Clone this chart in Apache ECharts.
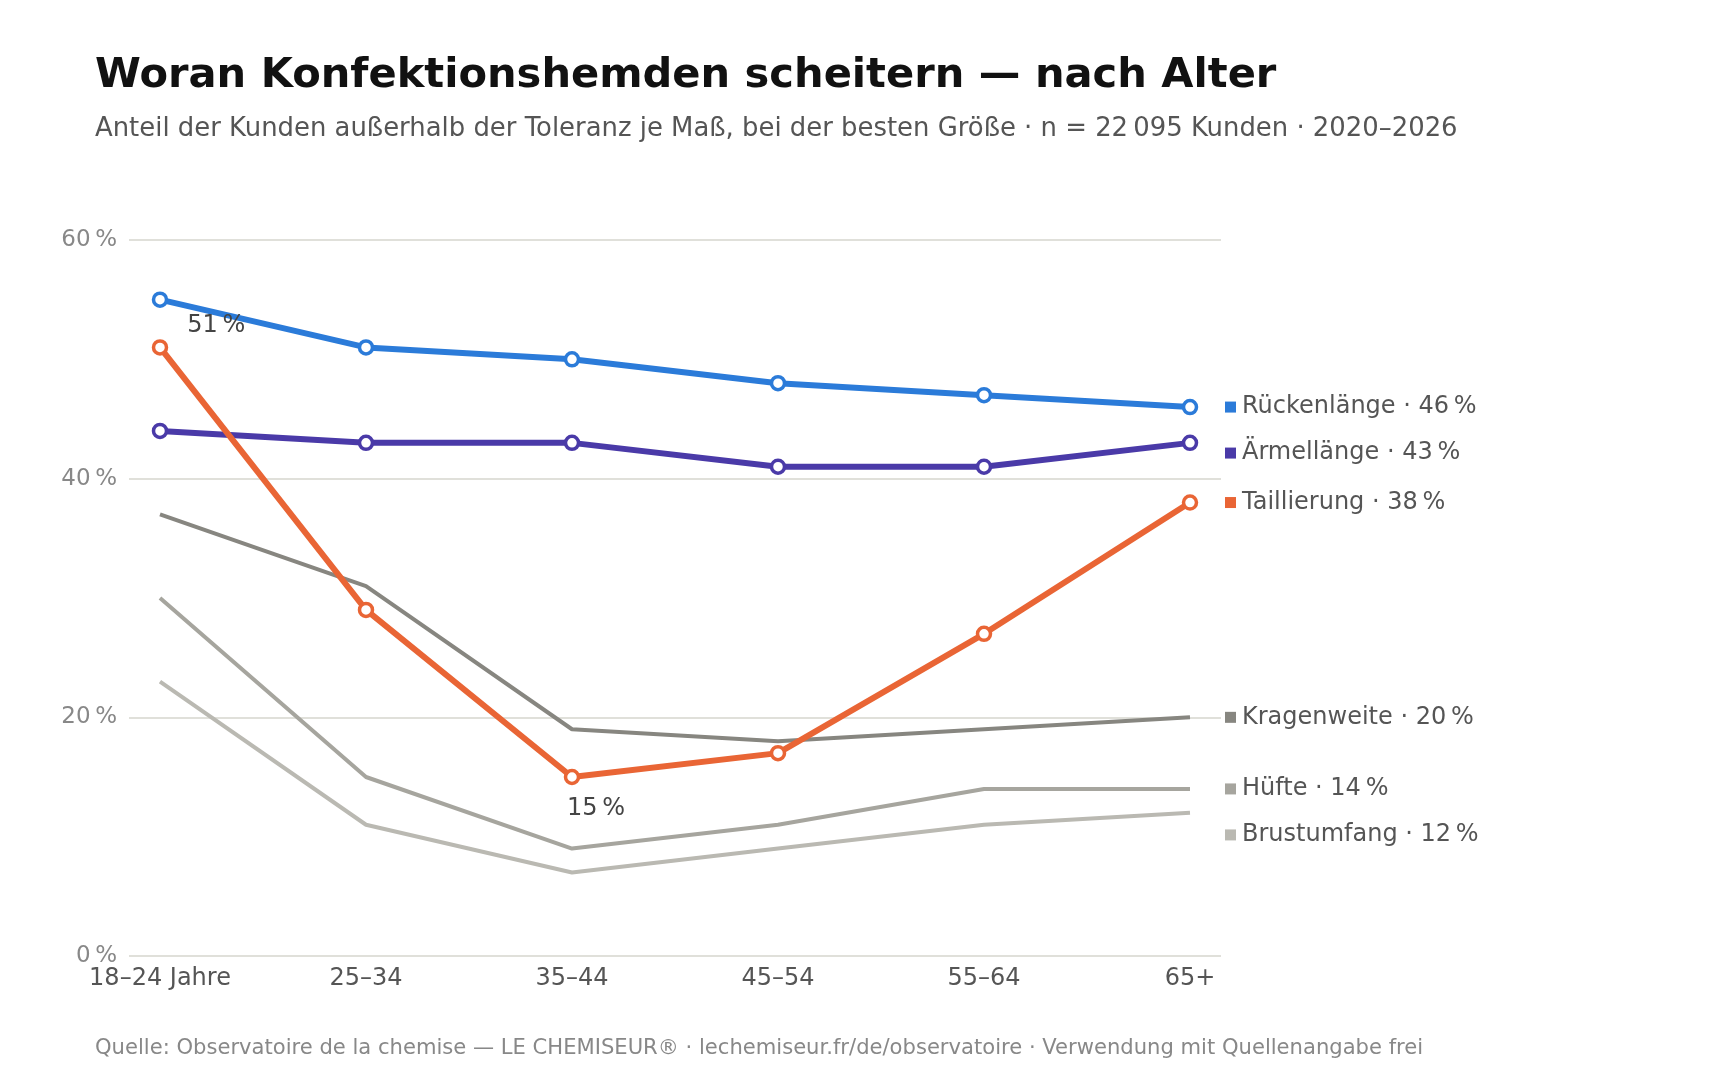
<!DOCTYPE html>
<html>
<head>
<meta charset="utf-8">
<script src="https://cdn.jsdelivr.net/npm/echarts@6/dist/echarts.min.js"></script>
<style>
  html, body { margin: 0; padding: 0; background: #fff; }
  #chart { width: 1720px; height: 1080px; }
</style>
</head>
<body>
<div id="chart"></div>
<script>
// Altersgruppen (x-Achse)
const ageGroups = ['18–24 Jahre', '25–34', '35–44', '45–54', '55–64', '65+']

// Anteil außerhalb der Toleranz, in %
const rueckenlaenge = [55, 51, 50, 48, 47, 46]
const aermellaenge = [44, 43, 43, 41, 41, 43]
const taillierung = [51, 29, 15, 17, 27, 38]
const kragenweite = [37, 31, 19, 18, 19, 20]
const huefte = [30, 15, 9, 11, 14, 14]
const brustumfang = [23, 11, 7, 9, 11, 12]

const yTicks = [0, 20, 40, 60]

const FONT = 'DejaVu Sans'
const NNBSP = '\u202f'

// hervorgehobene Maße mit Punkten, graue Maße ohne
const seriesDefs = [
  { name: 'Kragenweite', data: kragenweite, color: '#878680', strong: false },
  { name: 'Hüfte', data: huefte, color: '#a6a59e', strong: false },
  { name: 'Brustumfang', data: brustumfang, color: '#bab9b2', strong: false },
  { name: 'Rückenlänge', data: rueckenlaenge, color: '#2b7bd9', strong: true },
  { name: 'Ärmellänge', data: aermellaenge, color: '#4a3aa8', strong: true },
  { name: 'Taillierung', data: taillierung, color: '#e96535', strong: true, annotate: true }
]

function pct (v) {
  return v + NNBSP + '%'
}

// Verschiebung der Max/Min-Beschriftung (px)
const shiftMax = [14, -22]
const shiftMin = [24, 7]

function extremes (arr) {
  return {
    iMax: arr.indexOf(Math.max.apply(null, arr)),
    iMin: arr.indexOf(Math.min.apply(null, arr))
  }
}

function buildData (def) {
  if (!def.annotate) return def.data
  const ex = extremes(def.data)
  return def.data.map(function (v, i) {
    if (i === ex.iMax) {
      return { value: v, label: { show: true, position: 'right' } }
    }
    if (i === ex.iMin) {
      return { value: v, label: { show: true, position: 'bottom' } }
    }
    return v
  })
}

function makeLayout (def) {
  const ex = extremes(def.data)
  return function (p) {
    const isEnd = (p.text || '').indexOf('·') >= 0
    if (def.annotate && !isEnd) {
      if (p.dataIndex === ex.iMax) return { dx: shiftMax[0], dy: shiftMax[1] }
      if (p.dataIndex === ex.iMin) return { dx: shiftMin[0], dy: shiftMin[1] }
    }
    return { moveOverlap: 'shiftY' }
  }
}

const chart = echarts.init(document.getElementById('chart'))

chart.setOption({
  backgroundColor: '#ffffff',
  animation: false,
  textStyle: { fontFamily: FONT },
  title: [
    {
      text: 'Woran Konfektionshemden scheitern — nach Alter',
      left: 90,
      top: 50,
      textStyle: { fontFamily: FONT, fontSize: 41.6, fontWeight: 'bold', color: '#111' }
    },
    {
      text: 'Anteil der Kunden außerhalb der Toleranz je Maß, bei der besten Größe · n = 22' + NNBSP + '095 Kunden · 2020–2026',
      left: 90,
      top: 111,
      textStyle: { fontFamily: FONT, fontSize: 25.9, fontWeight: 'normal', color: '#555' }
    },
    {
      text: 'Quelle: Observatoire de la chemise — LE CHEMISEUR® · lechemiseur.fr/de/observatoire · Verwendung mit Quellenangabe frei',
      left: 90,
      top: 1033,
      textStyle: { fontFamily: FONT, fontSize: 21.1, fontWeight: 'normal', color: '#888' }
    }
  ],
  grid: [
    // Hintergrund mit Gitterlinien (etwas breiter als die Daten)
    { left: 129, right: 499, top: 240, bottom: 124 },
    // Daten
    { left: 160, right: 530, top: 240, bottom: 124 }
  ],
  xAxis: [
    { type: 'value', gridIndex: 0, show: false, min: 0, max: 1 },
    {
      type: 'category',
      gridIndex: 1,
      data: ageGroups,
      boundaryGap: false,
      axisLine: { show: false },
      axisTick: { show: false },
      axisLabel: { color: '#555', fontSize: 24, margin: 11, fontFamily: FONT }
    }
  ],
  yAxis: [
    {
      type: 'value',
      gridIndex: 0,
      min: 0,
      max: 60,
      interval: 20,
      axisLine: { show: false },
      axisTick: { show: false },
      axisLabel: {
        color: '#888',
        fontSize: 23,
        margin: 12,
        fontFamily: FONT,
        formatter: function (v) { return yTicks.indexOf(v) >= 0 ? pct(v) : '' }
      },
      splitLine: { lineStyle: { color: '#e0e0da', width: 2 } }
    },
    { type: 'value', gridIndex: 1, min: 0, max: 60, show: false }
  ],
  series: seriesDefs.map(function (def) {
    return {
      name: def.name,
      type: 'line',
      xAxisIndex: 1,
      yAxisIndex: 1,
      data: buildData(def),
      z: def.strong ? 5 : 3,
      showSymbol: def.strong,
      symbol: 'circle',
      symbolSize: 13,
      itemStyle: { color: '#fff', borderColor: def.color, borderWidth: 3.5 },
      lineStyle: { color: def.color, width: def.strong ? 6 : 4, cap: 'butt' },
      label: {
        color: '#444',
        fontSize: 24,
        fontFamily: FONT,
        formatter: function (p) { return pct(p.value) }
      },
      emphasis: { disabled: true },
      endLabel: {
        show: true,
        distance: 35,
        fontSize: 24,
        lineHeight: 46,
        color: '#555',
        fontFamily: FONT,
        formatter: function () {
          return '{sq|}{g|}' + def.name + ' · ' + pct(def.data[def.data.length - 1])
        },
        rich: {
          sq: { width: 11, height: 11, backgroundColor: def.color },
          g: { width: 6 }
        }
      },
      labelLayout: makeLayout(def)
    }
  })
})
</script>
</body>
</html>
